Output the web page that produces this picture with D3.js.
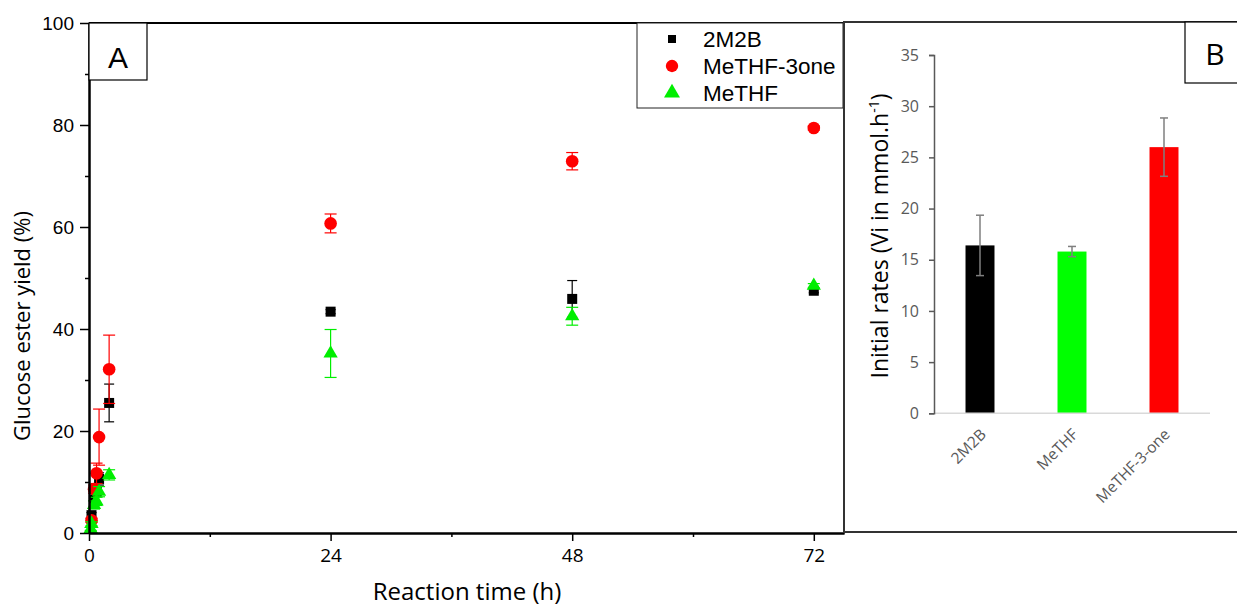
<!DOCTYPE html>
<html><head><meta charset="utf-8">
<script src="https://cdn.jsdelivr.net/npm/d3@7"></script>
<style>body{margin:0;background:#fff}svg{display:block}</style>
</head><body><svg id="c" width="1237" height="608"></svg>
<script>
// ---------- Panel A data ----------
const seriesNames = ["2M2B", "MeTHF-3one", "MeTHF"];
const timeA_2M2B = [0.25, 0.5, 0.75, 1, 2, 24, 48, 72];
const yield2M2B  = [3.5, 6.5, 8.1, 10.6, 25.5, 43.4, 45.9, 47.5];
const err2M2B    = [0.5, 0.8, 0.8, 1.2, 3.7, 0.4, 3.6, 0.4];
const timeA_3one = [0.25, 0.5, 0.75, 1, 2, 24, 48, 72];
const yield3one  = [2.5, 8.6, 11.7, 18.8, 32.1, 60.7, 72.9, 79.4];
const err3one    = [0.4, 0.8, 2.0, 5.5, 6.7, 1.85, 1.7, 0.4];
const timeA_MeTHF = [0.17, 0.25, 0.5, 0.75, 1, 2, 24, 48, 72];
const yieldMeTHF  = [0.8, 1.8, 5.5, 6.2, 8.1, 11.4, 35.2, 42.5, 48.5];
const errMeTHF    = [0.3, 0.4, 0.8, 0.8, 1.0, 1.0, 4.7, 1.75, 0.4];
const xTicksA = [0, 24, 48, 72];
const xMinorA = [12, 36, 60];
const yTicksA = [0, 20, 40, 60, 80, 100];
const yMinorA = [10, 30, 50, 70, 90];

// ---------- Panel B data ----------
const categoriesB = ["2M2B", "MeTHF", "MeTHF-3-one"];
const ratesB = [16.4, 15.8, 26.0];
const ratesErrB = [2.95, 0.5, 2.85];
const yTicksB = [0, 5, 10, 15, 20, 25, 30, 35];

const svg = d3.select("#c");
svg.append("rect").attr("width", 1237).attr("height", 608).attr("fill", "#fff");

// ================= Panel A =================
const A = {l: 89, r: 844, t: 23, b: 533};
const x = d3.scaleLinear().domain([0, 75]).range([A.l, A.r]);
const y = d3.scaleLinear().domain([0, 100]).range([A.b, A.t]);

const series = [
  {name: seriesNames[0], t: timeA_2M2B, v: yield2M2B, e: err2M2B, color: "#000000", sym: d3.symbolSquare, size: 100, cap: 5},
  {name: seriesNames[1], t: timeA_3one, v: yield3one, e: err3one, color: "#ff0000", sym: d3.symbolCircle, size: 125, cap: 6},
  {name: seriesNames[2], t: timeA_MeTHF, v: yieldMeTHF, e: errMeTHF, color: "#00ee00", sym: d3.symbolTriangle, size: 88, cap: 6}
];

const gA = svg.append("g");
series.forEach(s => {
  const pts = s.t.map((t, i) => ({t, v: s.v[i], e: s.e[i]}));
  const g = gA.append("g");
  const eb = g.selectAll("g.eb").data(pts).join("g").attr("stroke", s.color).attr("stroke-width", 1.2);
  eb.append("line").attr("x1", d => x(d.t)).attr("x2", d => x(d.t))
    .attr("y1", d => y(d.v + d.e)).attr("y2", d => y(d.v - d.e));
  eb.append("line").attr("x1", d => x(d.t) - s.cap).attr("x2", d => x(d.t) + s.cap)
    .attr("y1", d => y(d.v + d.e)).attr("y2", d => y(d.v + d.e));
  eb.append("line").attr("x1", d => x(d.t) - s.cap).attr("x2", d => x(d.t) + s.cap)
    .attr("y1", d => y(d.v - d.e)).attr("y2", d => y(d.v - d.e));
  g.selectAll("path.m").data(pts).join("path")
    .attr("transform", d => `translate(${x(d.t)},${y(d.v)})`)
    .attr("d", d3.symbol().type(s.sym).size(s.size))
    .attr("fill", s.color);
});

// axes A
const tickFontA = "'Liberation Sans', Arial, sans-serif";
const yAx = svg.append("g").attr("transform", `translate(${A.l},0)`)
  .call(d3.axisLeft(y).tickValues(yTicksA).tickSize(9).tickSizeOuter(0).tickPadding(6));
yAx.selectAll("text").attr("font-family", tickFontA).attr("font-size", 19).attr("fill", "#000");
const yAxMinor = svg.append("g").attr("transform", `translate(${A.l},0)`)
  .call(d3.axisLeft(y).tickValues(yMinorA).tickSize(4).tickSizeOuter(0).tickFormat(""));
const xAx = svg.append("g").attr("transform", `translate(0,${A.b})`)
  .call(d3.axisBottom(x).tickValues(xTicksA).tickSize(8).tickSizeOuter(0).tickPadding(8));
xAx.selectAll("text").attr("font-family", "'Open Sans', sans-serif").attr("font-size", 19).attr("fill", "#000");
const xAxMinor = svg.append("g").attr("transform", `translate(0,${A.b})`)
  .call(d3.axisBottom(x).tickValues(xMinorA).tickSize(4).tickSizeOuter(0).tickFormat(""));
[yAx, yAxMinor, xAx, xAxMinor].forEach(g => {
  g.select(".domain").attr("stroke", "#000").attr("stroke-width", 2);
  g.selectAll(".tick line").attr("stroke", "#000").attr("stroke-width", 1.5);
});
// top border
svg.append("line").attr("x1", A.l).attr("x2", A.r).attr("y1", A.t).attr("y2", A.t)
  .attr("stroke", "#000").attr("stroke-width", 2);

// axis titles A
svg.append("text").attr("x", 467).attr("y", 600).attr("text-anchor", "middle")
  .attr("font-family", "'Open Sans', sans-serif").attr("font-size", 24).text("Reaction time (h)");
svg.append("text").attr("transform", `translate(30,326) rotate(-90)`)
  .attr("text-anchor", "middle").attr("font-family", "'Open Sans', sans-serif").attr("font-size", 22)
  .text("Glucose ester yield (%)");

// "A" label box
svg.append("rect").attr("x", 89).attr("y", 23).attr("width", 58).attr("height", 57)
  .attr("fill", "#fff").attr("stroke", "#000").attr("stroke-width", 1.2);
svg.append("text").attr("x", 118).attr("y", 68).attr("text-anchor", "middle")
  .attr("font-family", "'Liberation Sans', Arial, sans-serif").attr("font-size", 30).text("A");

// legend A
const leg = svg.append("g");
leg.append("rect").attr("x", 637).attr("y", 23).attr("width", 206).attr("height", 85)
  .attr("fill", "#fff").attr("stroke", "#222").attr("stroke-width", 1);
const legSizes = [64, 120, 110];
series.forEach((s, i) => {
  const yy = 39 + i * 27;
  leg.append("path").attr("transform", `translate(672,${yy})`)
    .attr("d", d3.symbol().type(s.sym).size(legSizes[i])).attr("fill", s.color);
  leg.append("text").attr("x", 703).attr("y", yy + 8)
    .attr("font-family", "'Liberation Sans', Arial, sans-serif").attr("font-size", 22.5).text(s.name);
});

// ================= Panel B =================
svg.append("rect").attr("x", 844).attr("y", 22).attr("width", 400).attr("height", 510)
  .attr("fill", "none").attr("stroke", "#333").attr("stroke-width", 2);

const B = {l: 934, r: 1210, t: 55, b: 413.3};
const xb = d3.scaleBand().domain(categoriesB).range([B.l, B.r]).paddingInner(0.685).paddingOuter(0.3425);
const yb = d3.scaleLinear().domain([0, 35]).range([B.b, B.t]);
const barColors = ["#000000", "#00ff00", "#ff0000"];

const bars = categoriesB.map((c, i) => ({c, v: ratesB[i], e: ratesErrB[i], col: barColors[i]}));
svg.append("g").selectAll("rect").data(bars).join("rect")
  .attr("x", d => xb(d.c)).attr("width", xb.bandwidth())
  .attr("y", d => yb(d.v)).attr("height", d => yb(0) - yb(d.v))
  .attr("fill", d => d.col);

// baseline
svg.append("line").attr("x1", B.l).attr("x2", B.r).attr("y1", yb(0)).attr("y2", yb(0))
  .attr("stroke", "#d9d9d9").attr("stroke-width", 1.5);

// error bars B
const ebB = svg.append("g").selectAll("g").data(bars).join("g")
  .attr("stroke", "#7f7f7f").attr("stroke-width", 1.5);
const cx = d => xb(d.c) + xb.bandwidth() / 2;
ebB.append("line").attr("x1", cx).attr("x2", cx).attr("y1", d => yb(d.v + d.e)).attr("y2", d => yb(d.v - d.e));
ebB.append("line").attr("x1", d => cx(d) - 4).attr("x2", d => cx(d) + 4).attr("y1", d => yb(d.v + d.e)).attr("y2", d => yb(d.v + d.e));
ebB.append("line").attr("x1", d => cx(d) - 4).attr("x2", d => cx(d) + 4).attr("y1", d => yb(d.v - d.e)).attr("y2", d => yb(d.v - d.e));

// y axis B
const ybAx = svg.append("g").attr("transform", `translate(${B.l},0)`)
  .call(d3.axisLeft(yb).tickValues(yTicksB).tickSize(5).tickSizeOuter(5).tickPadding(10));
ybAx.select(".domain").attr("stroke", "#595959").attr("stroke-width", 1.5);
ybAx.selectAll(".tick line").attr("stroke", "#595959").attr("stroke-width", 1.5);
ybAx.selectAll("text").attr("font-family", "'Open Sans', sans-serif").attr("font-size", 16).attr("fill", "#595959");

// x labels B
svg.append("g").selectAll("text").data(categoriesB).join("text")
  .attr("transform", d => `translate(${xb(d) + xb.bandwidth() / 2 + 7},${B.b + 22}) rotate(-45)`)
  .attr("text-anchor", "end").attr("font-family", "'Open Sans', sans-serif").attr("font-size", 15.5)
  .attr("fill", "#595959").text(d => d);

// y title B
const tB = svg.append("text").attr("transform", `translate(888,236) rotate(-90)`)
  .attr("text-anchor", "middle").attr("font-family", "'Open Sans', sans-serif").attr("font-size", 23)
  .attr("fill", "#000");
tB.append("tspan").text("Initial rates (Vi in mmol.h");
tB.append("tspan").attr("font-size", 14).attr("dy", -9).text("-1");
tB.append("tspan").attr("dy", 9).text(")");

// "B" label box
svg.append("rect").attr("x", 1185).attr("y", 22).attr("width", 60).attr("height", 61)
  .attr("fill", "#fff").attr("stroke", "#000").attr("stroke-width", 1.2);
svg.append("text").attr("x", 1215).attr("y", 65).attr("text-anchor", "middle")
  .attr("font-family", "'Open Sans', sans-serif").attr("font-size", 30).text("B");
</script></body></html>
